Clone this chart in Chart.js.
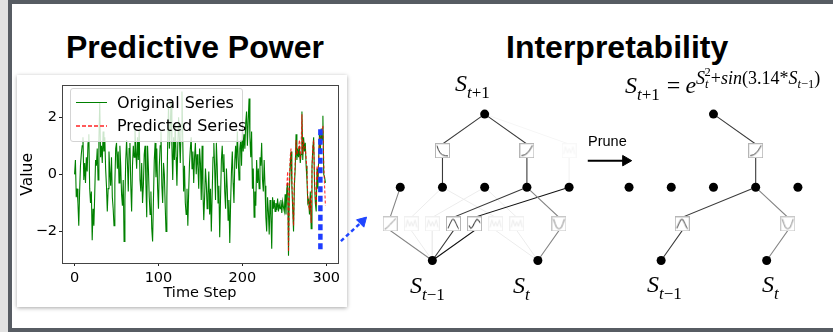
<!DOCTYPE html>
<html>
<head>
<meta charset="utf-8">
<script src="https://cdn.jsdelivr.net/npm/chart.js@4.4.1/dist/chart.umd.min.js"></script>
<style>
  html, body { margin: 0; padding: 0; }
  body { width: 833px; height: 332px; position: relative; overflow: hidden; background: #e2e2e2; }
  #frame { position: absolute; left: 8px; top: 0; width: 830px; height: 324px; border: 4px solid #575c63; background: #fff; }
  #card { position: absolute; left: 17px; top: 75px; width: 330px; height: 232px; background: #fff; box-shadow: 0 1px 4px rgba(0,0,0,0.35); }
  canvas { position: absolute; }
  #series { left: 17px; top: 75px; z-index: 2; }
  #diagram { left: 330px; top: 60px; z-index: 4; }
  .title { position: absolute; top: 31px; font: bold 32px/1 "Liberation Sans", Arial, sans-serif; color: #000; white-space: nowrap; }
  #legend { position: absolute; left: 70px; top: 88px; width: 171px; height: 52px; border: 1px solid #d4d4d4; border-radius: 3px; background: rgba(255,255,255,0.8); z-index: 3; }
  #legend .txt { position: absolute; left: 46px; font: 16px/1 "DejaVu Sans", sans-serif; color: #000; white-space: nowrap; }
  #legend .sw { position: absolute; left: 5px; width: 31px; height: 1.5px; }
  .m { position: absolute; font: italic 24px/1 "Liberation Serif", "Times New Roman", serif; color: #000; white-space: nowrap; z-index: 5; }
  .m .sub { position: relative; top: 7px; font-size: 17px; }
  .m .sup { position: relative; top: -9px; font-size: 18px; }
  .m .ss { position: relative; font-size: 12.5px; }
  .up { font-style: normal; }
  #prune { position: absolute; left: 588px; top: 134px; font: 14.5px/1 "Liberation Sans", Arial, sans-serif; color: #000; z-index: 5; }
</style>
</head>
<body>
<div id="frame"></div>
<div class="title" style="left:66px">Predictive Power</div>
<div class="title" style="left:506px">Interpretability</div>
<div id="card"></div>
<canvas id="series" width="330" height="232"></canvas>
<div id="legend">
  <div class="sw" style="top:12.5px;background:#008000"></div>
  <div class="txt" style="top:5.5px">Original Series</div>
  <div class="sw" style="top:36px;background:repeating-linear-gradient(90deg,#ff5a5a 0 4px,transparent 4px 6px)"></div>
  <div class="txt" style="top:29.2px">Predicted Series</div>
</div>
<canvas id="diagram" width="503" height="250"></canvas>

<div class="m" style="left:455px;top:70.9px">S<span class="sub">t<span class="up">+1</span></span></div>
<div class="m" style="left:410px;top:272.9px">S<span class="sub">t<span class="up">&minus;1</span></span></div>
<div class="m" style="left:513px;top:272.9px">S<span class="sub">t</span></div>
<div class="m" style="left:647px;top:271.9px">S<span class="sub">t<span class="up">&minus;1</span></span></div>
<div class="m" style="left:762px;top:271.9px">S<span class="sub">t</span></div>
<div class="m" style="left:625px;top:72.9px">S<span class="sub">t<span class="up">+1</span></span><span class="up" style="margin:0 5px 0 7px">=</span>e<span class="sup">S<span class="ss" style="top:4px">t</span><span class="ss up" style="top:-8px;margin-left:-4px">2</span><span class="up">+</span>sin<span class="up">(3.14*</span>S<span class="ss" style="top:4px">t<span class="up">&minus;1</span></span><span class="up">)</span></span></div>
<div id="prune">Prune</div>

<script>
// ---- left panel: time series ----
const originalSeries = [
  0.0, 0.5, -0.8, -0.5, -1.0, -1.8, -0.6, 0.3, 0.7, 1.0,
  1.3, -0.2, 0.4, -0.3, 0.6, 0.1, 1.1, 1.4, -0.5, -1.0,
  -0.6, -2.3, -1.2, -1.8, -0.7, 0.5, 0.3, 0.9, -0.2, 1.2,
  2.5, 0.6, 1.0, 0.4, 1.5, 0.8, 1.3, 0.2, -0.4, -1.3,
  -0.5, 0.8, 0.1, -0.4, 0.6, -0.8, -1.2, -1.8, -0.3, 0.9,
  1.1, 0.2, 0.8, -0.3, 1.0, 0.3, -0.7, -1.1, -0.2, -2.35,
  -0.9, 0.5, 1.2, 0.4, -0.6, 0.9, 1.1, -0.4, -1.3, 0.3,
  1.0, 0.6, 1.6, 0.8, 0.2, 1.3, 0.5, 1.6, -0.2, -0.6,
  0.4, -1.0, -0.4, 0.7, 1.0, -0.3, -1.5, 1.0, 0.2, -0.8,
  -1.4, -0.6, -1.9, -2.35, -0.9, 0.5, 1.1, -0.1, 0.9, -0.5,
  -1.2, 0.3, 1.0, 1.5, -0.4, -1.0, 0.4, 0.0, -1.1, -2.0,
  -0.8, 1.2, 2.4, 0.9, 1.6, 2.6, 1.0, -0.2, 1.3, 0.5,
  1.8, 0.6, -0.4, 1.0, 2.0, 1.2, 0.4, 1.7, 2.9, 1.1,
  -0.6, 0.3, -1.0, -1.4, -0.5, -1.8, -0.6, 0.4, 0.9, 1.3,
  0.2, 0.8, -0.3, 0.6, 1.1, 0.0, 0.7, 0.3, -0.5, 0.9,
  0.4, -0.9, 1.0, -0.6, -1.6, -0.8, 0.2, -0.3, -1.2, -0.7,
  0.1, -1.4, -0.5, -2.0, -0.7, 0.6, 1.1, 0.2, -0.9, 1.1,
  0.3, -1.0, -0.4, -2.2, -0.8, 0.5, 1.0, 0.1, 0.7, -0.6,
  -1.2, 0.2, -0.5, -1.6, -0.9, -2.4, -1.0, 0.1, 0.8, -0.3,
  -1.0, 0.5, 1.0, 0.2, 1.5, 0.6, -0.2, 0.9, 1.2, 0.3,
  1.6, 0.8, 1.4, 0.9, 1.8, 2.2, 1.0, 1.9, 2.65, 1.3,
  0.6, 1.5, -0.5, 0.2, -1.5, -0.6, -1.1, 0.5, -0.3, 0.2,
  -0.5, 0.6, 0.3, 1.1, -0.2, -0.6, 0.5, -0.4, -1.5, -2.0,
  -0.8, -1.3, -2.1, -0.9, -1.4, -2.6, -0.8, -1.2, -0.9, -1.3,
  -1.0, -1.25, -0.85, -1.3, -1.05, -1.2, -0.9, -1.35, -0.95, -1.15,
  -1.3, -0.7, -1.4, -0.5, -0.3, -2.85, -0.6, 0.3, 0.8, -0.4,
  -1.2, -2.0, -0.4, 0.2, 1.4, 0.5, 0.9, 0.6, 1.0, 0.4,
  0.7, 2.2, 0.5, 1.3, 0.8, 1.1, 0.3, -0.2, -1.0, -0.9,
  -1.4, -0.6, -1.9, 0.3, 0.9, 1.3, -0.3, -1.0, -1.3, 0.2,
  -0.5, 0.6, 1.5, 0.8, 1.6, 1.2, 2.05, 0.0, -0.1, -0.3
];
const predictedStart = 253;
const predictedSeries = [
  -0.4, 0.1, -2.7, -0.3, 0.6, 0.9, -0.2,
  -1.0, -1.8, -0.2, 0.4, 1.2, 0.7, 0.8, 0.9, 1.2, 0.5,
  0.9, 2.1, 0.7, 1.1, 1.0, 0.9, 0.6, 0.1, -0.8, -1.1,
  -1.2, -0.8, -1.7, 0.1, 1.0, 1.2, -0.1, -0.8, -1.1, 0.3,
  -0.2, 0.5, 1.3, 1.0, 1.4, 1.5, 1.7, 0.4, -0.4, -1.1
];
const xTickValues = [0, 100, 200, 300];
const yTickValues = [-2, 0, 2];
const highlightStep = 293;
const highlightRange = [1.58, -2.65];

// ---- right panel: KAN graphs (x in hidden-node spacing units, y in layers) ----
const hiddenNodes = [0, 1, 2, 3, 4];
const inputNodes = [0.76, 3.26];
const outputNode = 2;
// [hidden node, box x, input node, strength, curve]
const fullLower = [
  [1, 0.26, 0, 'faint', 'zig'],
  [2, 0.76, 0, 'faint', 'zig'],
  [1, 2.26, 1, 'faint', 'zig'],
  [2, 2.76, 1, 'faint', 'zig'],
  [0, -0.24, 0, 'mid', 'rise'],
  [3, 3.76, 1, 'mid', 'cup'],
  [3, 1.26, 0, 'dark', 'hump'],
  [4, 1.76, 0, 'black', 'wave']
];
// [hidden node, strength, curve]
const fullUpper = [[4, 'ghost', 'zig'], [1, 'dark', 'dec'], [3, 'dark', 'exp']];
const prunedLower = [[3, 1.26, 0, 'dark', 'hump'], [3, 3.76, 1, 'mid', 'cup']];
const prunedUpper = [[3, 'dark', 'exp']];
const prunedShift = 5.42;

const LEVEL = { input: 0, lowBox: 0.5, hidden: 1, upBox: 1.5, output: 2 };
const BOX_HALF = 0.09;
const inkColors = { black: '#111', dark: '#3a3a3a', mid: '#858585', faint: '#ececec', ghost: '#f6f6f6' };
const boxEdge = { black: '#b5b5b5', dark: '#b5b5b5', mid: '#c8c8c8', faint: '#f0f0f0', ghost: '#f8f8f8' };
const curveGlyphs = {
  exp:  [[0,0.05],[0.3,0.12],[0.55,0.3],[0.75,0.55],[0.9,0.8],[1,0.98]],
  dec:  [[0,0.95],[0.12,0.6],[0.28,0.3],[0.5,0.12],[0.75,0.04],[1,0.02]],
  rise: [[0,0.02],[0.2,0.15],[0.5,0.45],[0.8,0.78],[1,0.98]],
  hump: [[0,0.1],[0.2,0.55],[0.38,0.9],[0.55,0.9],[0.75,0.5],[0.9,0.15],[1,0.05]],
  wave: [[0,0.35],[0.15,0.1],[0.3,0.2],[0.5,0.6],[0.7,0.92],[0.85,0.85],[1,0.6]],
  cup:  [[0,0.95],[0.15,0.5],[0.3,0.15],[0.5,0.05],[0.7,0.15],[0.85,0.5],[1,0.95]],
  zig:  [[0,0.2],[0.15,0.85],[0.35,0.3],[0.5,0.7],[0.65,0.3],[0.85,0.85],[1,0.2]]
};

function icon(shape, strength) {
  const c = document.createElement('canvas');
  c.width = 15; c.height = 15;
  const g = c.getContext('2d');
  g.fillStyle = '#fff';
  g.fillRect(0, 0, 15, 15);
  g.strokeStyle = boxEdge[strength];
  g.lineWidth = 1;
  g.strokeRect(0.5, 0.5, 14, 14);
  g.strokeStyle = inkColors[strength];
  g.beginPath();
  curveGlyphs[shape].forEach(([u, v], i) => {
    const px = 2 + u * 11, py = 13 - v * 11;
    i ? g.lineTo(px, py) : g.moveTo(px, py);
  });
  g.stroke();
  return c;
}

function edge(x1, y1, bx, by, x2, y2, strength) {
  const weak = strength === 'faint' || strength === 'ghost';
  return {
    data: [{x: x1, y: y1}, {x: bx, y: by + BOX_HALF}, {x: bx, y: by - BOX_HALF}, {x: x2, y: y2}],
    showLine: true, borderColor: inkColors[strength], borderWidth: weak ? 1 : 1.1,
    pointRadius: 0, order: weak ? 4 : 3
  };
}

function buildDiagram(shift, upper, lower) {
  const sets = [], boxPts = [], boxIcons = [];
  upper.forEach(([h, strength, shape]) => {
    const hx = hiddenNodes[h] + shift;
    sets.push(edge(outputNode + shift, LEVEL.output, hx, LEVEL.upBox, hx, LEVEL.hidden, strength));
    boxPts.push({x: hx, y: LEVEL.upBox});
    boxIcons.push(icon(shape, strength));
  });
  lower.forEach(([h, bx, i, strength, shape]) => {
    sets.push(edge(hiddenNodes[h] + shift, LEVEL.hidden, bx + shift, LEVEL.lowBox, inputNodes[i] + shift, LEVEL.input, strength));
    boxPts.push({x: bx + shift, y: LEVEL.lowBox});
    boxIcons.push(icon(shape, strength));
  });
  sets.push({ data: boxPts, pointStyle: boxIcons, pointRadius: 7, order: 1 });
  const nodes = hiddenNodes.map(x => ({x: x + shift, y: LEVEL.hidden}))
    .concat(inputNodes.map(x => ({x: x + shift, y: LEVEL.input})))
    .concat([{x: outputNode + shift, y: LEVEL.output}]);
  sets.push({ data: nodes, pointRadius: 4.5, backgroundColor: '#000', borderWidth: 0, order: 0 });
  return sets;
}

// arrows: [start, arrowhead centre], head rotation
const zoomArrow = [[-1.406, 0.264], [-0.899, 0.535]];
const pruneArrow = [[4.442, 1.364], [5.34, 1.364]];

function arrow(pts, color, dash, width, rot) {
  return [
    { data: pts.map(([x, y]) => ({x, y})), showLine: true, borderColor: color, borderDash: dash, borderWidth: width, pointRadius: 0, order: 0 },
    { data: [{x: pts[1][0], y: pts[1][1]}], pointStyle: 'triangle', pointRadius: 6, rotation: rot, backgroundColor: color, borderColor: color, borderWidth: 1, order: 0 }
  ];
}

Chart.defaults.font.family = 'DejaVu Sans';
Chart.defaults.color = '#000';

new Chart(document.getElementById('series'), {
  type: 'line',
  data: {
    datasets: [
      { label: 'Original Series', data: originalSeries.map((v, i) => ({x: i, y: v})),
        borderColor: '#008000', borderWidth: 1.1, pointRadius: 0, order: 2 },
      { label: 'Predicted Series', data: predictedSeries.map((v, i) => ({x: predictedStart + i, y: v})),
        borderColor: 'rgba(255,0,0,0.8)', borderDash: [3, 2], borderWidth: 1.1, pointRadius: 0, order: 1 },
      { label: 'window', data: highlightRange.map(v => ({x: highlightStep, y: v})),
        borderColor: '#1f3dff', borderWidth: 4.5, borderDash: [6, 3.5], pointRadius: 0, order: 0 }
    ]
  },
  options: {
    responsive: false,
    animation: false,
    events: [],
    layout: { padding: { left: 0, right: 9, top: 5, bottom: 0 } },
    plugins: { legend: { display: false }, tooltip: { enabled: false } },
    scales: {
      x: {
        type: 'linear', min: -15, max: 314,
        afterBuildTicks: s => { s.ticks = xTickValues.map(v => ({value: v})); },
        afterFit: s => { s.height = 44; },
        grid: { display: true, drawOnChartArea: false, drawTicks: true, tickLength: 3, color: '#222' },
        border: { display: true, color: '#444', width: 1 },
        ticks: { font: { size: 14.5 }, padding: 4, maxRotation: 0 },
        title: { display: true, text: 'Time Step', font: { size: 14.5 }, padding: { top: 0, bottom: 5 } }
      },
      y: {
        type: 'linear', min: -3.1, max: 3.1,
        afterBuildTicks: s => { s.ticks = yTickValues.map(v => ({value: v})); },
        afterFit: s => { s.width = 45; },
        grid: { display: true, drawOnChartArea: false, drawTicks: true, tickLength: 3, color: '#222' },
        border: { display: true, color: '#444', width: 1 },
        ticks: { font: { size: 14.5 }, padding: 2, callback: v => v < 0 ? '\u2212' + (-v) : String(v) },
        title: { display: true, text: 'Value', font: { size: 15.5 }, padding: { top: 2, bottom: 0 } }
      },
      x2: {
        type: 'linear', position: 'top', min: -15, max: 314,
        grid: { display: false }, ticks: { display: false },
        border: { display: true, color: '#444', width: 1 },
        afterFit: s => { s.height = 0; }
      },
      y2: {
        type: 'linear', position: 'right', min: -3.1, max: 3.1,
        grid: { display: false }, ticks: { display: false },
        border: { display: true, color: '#444', width: 1 },
        afterFit: s => { s.width = 0; }
      }
    }
  }
});

new Chart(document.getElementById('diagram'), {
  type: 'scatter',
  data: {
    datasets: buildDiagram(0, fullUpper, fullLower)
      .concat(buildDiagram(prunedShift, prunedUpper, prunedLower))
      .concat(arrow(zoomArrow, '#1f45ff', [4, 3], 2.5, 45))
      .concat(arrow(pruneArrow, '#000', [], 2, 90))
  },
  options: {
    responsive: false,
    animation: false,
    events: [],
    layout: { padding: 0 },
    plugins: { legend: { display: false }, tooltip: { enabled: false } },
    scales: {
      x: { type: 'linear', display: false, min: -1.475, max: 10.062 },
      y: { type: 'linear', display: false, min: -0.567, max: 2.630 }
    }
  }
});
</script>
</body>
</html>
